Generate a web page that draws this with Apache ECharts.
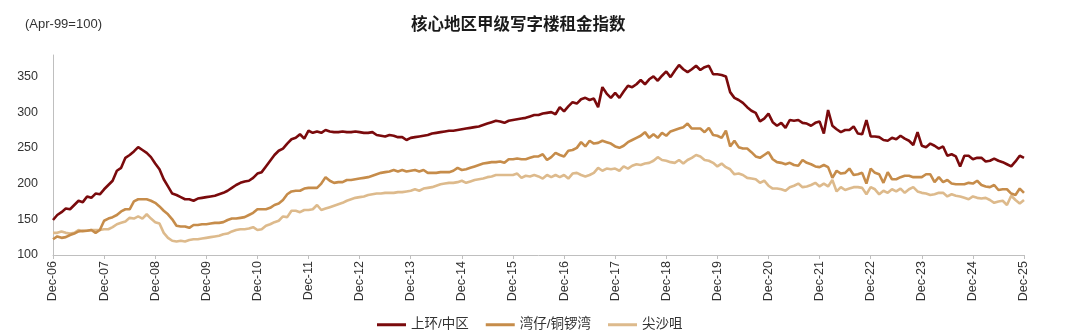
<!DOCTYPE html>
<html>
<head>
<meta charset="utf-8">
<script src="https://cdn.jsdelivr.net/npm/echarts@6/dist/echarts.min.js"></script>
<style>
html,body{margin:0;padding:0;background:#fff;}
#chart{width:1080px;height:335px;}
</style>
</head>
<body>
<div id="chart"></div>
<script>
// Monthly index, Dec-06 .. Dec-25 (Apr-99 = 100)
var monthNames = ['Dec','Jan','Feb','Mar','Apr','May','Jun','Jul','Aug','Sep','Oct','Nov'];
var startYear = 2006, endYear = 2025;
var seriesNames = ['上环/中区', '湾仔/铜锣湾', '尖沙咀'];
var yTicks = [100, 150, 200, 250, 300, 350];

var central = [
  149,156,160,165,164,170,176,174,182,180,186,185,
  192,198,204,218,222,236,240,245,251,247,243,237,
  228,220,206,196,186,184,181,178,178,176,179,180,
  181,182,183,185,187,190,194,198,201,203,204,208,
  214,216,224,232,240,246,249,256,262,264,269,263,
  274,271,273,271,275,273,272,272,273,272,272,273,
  272,271,271,272,268,267,266,268,267,265,265,261,
  264,265,266,267,268,270,271,272,273,274,274,275,
  276,277,278,279,280,282,284,286,288,287,285,288,
  289,290,291,292,294,296,296,298,299,300,297,307,
  301,308,314,312,318,320,317,319,307,335,326,320,
  327,320,329,337,335,339,345,339,346,350,344,351,
  357,349,358,366,360,356,360,365,359,363,365,353,
  353,352,350,328,320,317,313,307,302,299,287,291,
  298,286,281,285,278,289,288,289,285,284,281,285,
  287,270,303,281,276,272,275,275,280,270,269,289,
  266,266,265,261,260,264,262,267,263,260,254,272,
  253,251,256,253,249,252,239,241,238,224,239,239,
  234,236,236,231,232,235,232,230,227,224,231,239,
  236
];

var wanchai = [
  122,126,124,125,128,130,133,134,134,135,131,135,
  148,151,153,156,161,164,164,175,178,178,178,176,
  173,168,162,157,150,141,140,140,138,142,142,143,
  143,144,145,145,146,149,151,151,152,153,156,159,
  164,164,164,166,170,172,177,185,189,190,190,193,
  194,194,194,200,209,204,201,202,202,205,205,206,
  207,208,209,211,213,215,216,217,219,217,219,217,
  218,219,217,219,215,215,215,216,216,216,218,222,
  219,220,222,224,226,228,229,230,230,231,229,234,
  234,235,234,234,236,238,238,241,233,237,243,240,
  238,246,247,250,258,252,260,256,257,260,258,256,
  252,250,253,258,261,264,267,272,264,269,264,271,
  267,273,275,277,279,284,277,277,277,272,278,268,
  267,264,274,252,260,251,249,249,244,238,236,240,
  244,234,230,229,227,229,226,225,233,229,227,224,
  223,226,223,208,218,214,215,221,212,213,215,200,
  221,215,213,201,216,206,206,209,211,211,209,209,
  209,213,213,202,209,202,205,200,199,199,199,201,
  200,204,198,196,195,198,191,192,192,186,184,193,
  187
];

var tsimshatsui = [
  131,131,133,131,130,131,135,133,134,135,135,135,
  136,136,139,143,145,147,152,151,154,151,157,151,
  146,144,131,124,120,119,120,119,121,122,122,123,
  124,125,126,127,129,130,133,135,136,136,137,139,
  135,136,141,143,146,148,154,153,162,162,160,163,
  163,164,170,163,165,167,169,171,173,176,178,180,
  181,182,184,185,186,186,187,187,187,188,188,189,
  190,192,190,193,194,195,197,199,200,201,201,202,
  204,201,203,205,206,207,209,210,212,212,212,212,
  212,214,208,211,210,212,210,207,212,209,212,209,
  212,207,214,215,212,210,212,215,222,218,221,220,
  221,218,224,221,225,227,226,228,229,232,237,233,
  232,230,229,233,228,233,236,240,238,233,232,229,
  224,228,223,220,213,214,212,208,207,206,201,204,
  197,193,193,192,190,195,197,200,195,196,198,201,
  196,200,196,205,189,195,191,193,195,195,194,185,
  195,192,185,190,187,192,189,193,187,192,195,189,
  187,186,184,185,187,187,182,185,183,182,180,178,
  182,180,179,180,177,173,175,176,170,183,177,172,
  177
];

var categories = [];
for (var y = startYear; y <= endYear; y++) {
  for (var m = 0; m < 12; m++) {
    if (y === endYear && m > 0) break;
    var yr = (m === 0 ? y : y + 1);
    categories.push(monthNames[m] + '-' + String(yr % 100).padStart(2, '0'));
  }
}

var colors = ['#7A0A0C', '#C68C4A', '#DDBA8C'];
var font = '"Liberation Sans", Arial, "Noto Sans CJK SC", sans-serif';

var chart = echarts.init(document.getElementById('chart'), null, {renderer: 'canvas'});
chart.setOption({
  animation: false,
  backgroundColor: '#ffffff',
  textStyle: {fontFamily: font},
  title: [
    {text: '核心地区甲级写字楼租金指数', left: 406, top: 12,
     textStyle: {fontSize: 16.5, fontWeight: 'bold', color: '#1a1a1a', fontFamily: font}},
    {text: '(Apr-99=100)', left: 20, top: 13,
     textStyle: {fontSize: 13, fontWeight: 'normal', color: '#333', fontFamily: font}}
  ],
  legend: {
    left: 372, top: 313,
    icon: 'rect', itemWidth: 29, itemHeight: 3, itemGap: 17,
    textStyle: {fontSize: 13.5, color: '#333', fontFamily: font},
    data: seriesNames
  },
  grid: {left: 53, right: 56, top: 55, bottom: 80, containLabel: false},
  xAxis: {
    type: 'category',
    data: categories,
    boundaryGap: false,
    axisLine: {lineStyle: {color: '#BFBFBF', width: 1}},
    axisTick: {show: true, length: 4, interval: function (i) { return i % 12 === 0; }, lineStyle: {color: '#BFBFBF'}},
    axisLabel: {
      interval: function (i) { return i % 12 === 0; },
      rotate: 90, fontSize: 12.5, color: '#333', margin: 6, fontFamily: font
    },
    splitLine: {show: false}
  },
  yAxis: {
    type: 'value',
    min: 100, max: 380, interval: 50,
    axisLine: {show: true, lineStyle: {color: '#BFBFBF', width: 1}},
    axisTick: {show: false},
    axisLabel: {
      fontSize: 12.5, color: '#333', margin: 15, showMaxLabel: false, fontFamily: font,
      formatter: function (v) { return yTicks.indexOf(v) >= 0 ? String(v) : ''; }
    },
    splitLine: {show: false}
  },
  series: [
    {name: seriesNames[0], type: 'line', data: central, showSymbol: false, symbol: 'none',
     lineStyle: {color: colors[0], width: 2.6}, itemStyle: {color: colors[0]}, z: 5},
    {name: seriesNames[1], type: 'line', data: wanchai, showSymbol: false, symbol: 'none',
     lineStyle: {color: colors[1], width: 2.6}, itemStyle: {color: colors[1]}, z: 4},
    {name: seriesNames[2], type: 'line', data: tsimshatsui, showSymbol: false, symbol: 'none',
     lineStyle: {color: colors[2], width: 2.6}, itemStyle: {color: colors[2]}, z: 3}
  ]
});
</script>
</body>
</html>
